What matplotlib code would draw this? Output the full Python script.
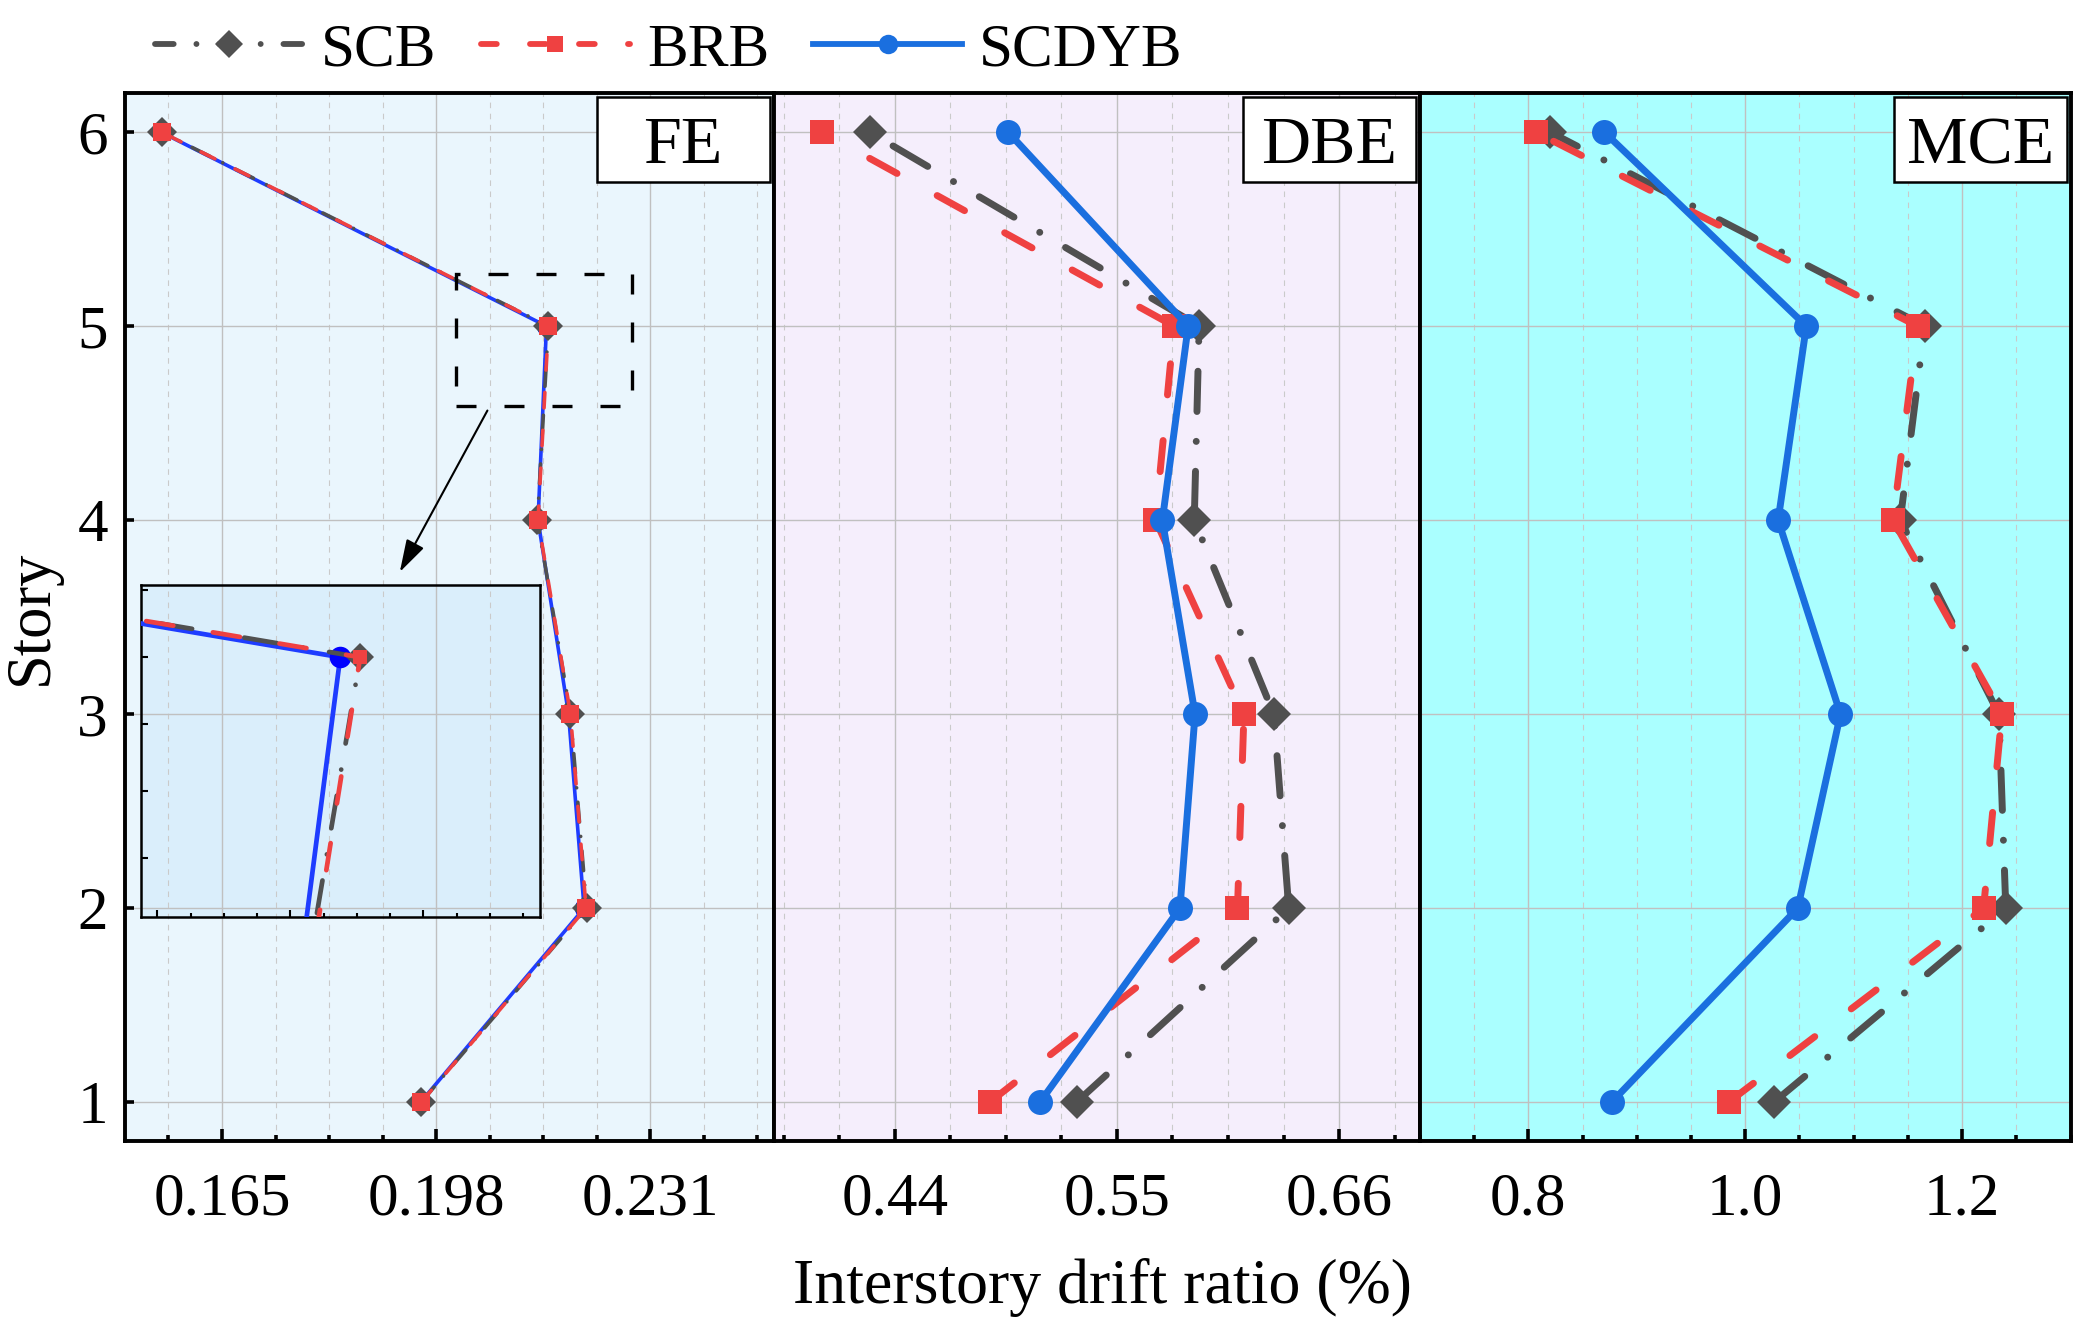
import matplotlib.pyplot as plt
import numpy as np
from matplotlib.lines import Line2D
from matplotlib.patches import Rectangle
from matplotlib.ticker import FixedLocator, MultipleLocator, FormatStrFormatter

plt.rcParams["font.family"] = ["Liberation Serif", "DejaVu Serif"]

# ---- data (interstory drift ratio in %, stories 1..6) ----
stories = [1, 2, 3, 4, 5, 6]
series_names = ["SCB", "BRB", "SCDYB"]

fe_scb = [0.1957, 0.2212, 0.2187, 0.2136, 0.2153, 0.1557]
fe_brb = [0.1957, 0.2211, 0.2187, 0.2137, 0.2153, 0.1557]
fe_scdyb = [0.1956, 0.2208, 0.2184, 0.2137, 0.2150, 0.1556]

dbe_scb = [0.5300, 0.6351, 0.6277, 0.5883, 0.5907, 0.4275]
dbe_brb = [0.4870, 0.6097, 0.6129, 0.5691, 0.5783, 0.4040]
dbe_scdyb = [0.5119, 0.5812, 0.5887, 0.5725, 0.5853, 0.4961]

mce_scb = [1.0264, 1.2402, 1.2339, 1.1429, 1.1654, 0.8201]
mce_brb = [0.9846, 1.2197, 1.2366, 1.1362, 1.1589, 0.8067]
mce_scdyb = [0.8768, 1.0484, 1.0878, 1.0303, 1.0563, 0.8701]

panel_names = ["FE", "DBE", "MCE"]
panel_data = [
    [fe_scb, fe_brb, fe_scdyb],
    [dbe_scb, dbe_brb, dbe_scdyb],
    [mce_scb, mce_brb, mce_scdyb],
]
x_limits = [(0.15, 0.25), (0.38, 0.70), (0.70, 1.30)]
x_major = [[0.165, 0.198, 0.231], [0.44, 0.55, 0.66], [0.8, 1.0, 1.2]]
x_minor_step = [0.00825, 0.0275, 0.05]
x_fmt = ["%.3f", "%.2f", "%.1f"]
panel_bg = ["#EAF6FD", "#F5EEFC", "#AAFFFF"]

GREY = "#505050"
RED = "#EF4141"
BLUE = "#1A6FDF"
BLUE_FE = "#1E3CFF"

# ---- figure layout ----
W_PX, H_PX = 2088, 1335
fig = plt.figure(figsize=(W_PX / 100, H_PX / 100), dpi=100)
edges = [0.0597, 0.3705, 0.6800, 0.9917]
bottom, top = 0.1453, 0.9301

axes = []
for i in range(3):
    ax = fig.add_axes([edges[i], bottom, edges[i + 1] - edges[i], top - bottom])
    ax.set_facecolor(panel_bg[i])
    ax.set_xlim(*x_limits[i])
    ax.set_ylim(0.8, 6.2)
    ax.xaxis.set_major_locator(FixedLocator(x_major[i]))
    ax.xaxis.set_minor_locator(MultipleLocator(x_minor_step[i]))
    ax.xaxis.set_major_formatter(FormatStrFormatter(x_fmt[i]))
    ax.set_yticks(stories)
    ax.set_axisbelow(True)
    ax.grid(which="major", axis="both", color="#C0C0C0", lw=1.0, ls="-")
    ax.grid(which="minor", axis="x", color="#CACACA", lw=0.8, ls=(0, (5, 5)))
    for sp in ax.spines.values():
        sp.set_linewidth(2.8)
        sp.set_color("black")
    ax.tick_params(axis="x", which="major", direction="in", length=8.6, width=2.6,
                   labelsize=44, pad=22, top=False)
    ax.tick_params(axis="x", which="minor", direction="in", length=4.3, width=2.6, top=False)
    if i == 0:
        ax.tick_params(axis="y", which="major", direction="in", length=6.5, width=2.6,
                       labelsize=44, pad=12, right=False)
        ax.set_ylabel("Story", fontsize=45, labelpad=12)
    else:
        ax.tick_params(axis="y", left=False, labelleft=False, right=False)
    axes.append(ax)


def plot_panel(ax, data, lw, ms, blue, blue_face, zorders, red_dash, grey_dash):
    scb, brb, scdyb = data
    ax.plot(scb, stories, color=GREY, lw=lw, dashes=grey_dash, dash_capstyle="round",
            marker="D", ms=ms[0], mew=0, zorder=zorders[0])
    ax.plot(brb, stories, color=RED, lw=lw, dashes=red_dash, dash_capstyle="round",
            marker="s", ms=ms[1], mew=0, zorder=zorders[1])
    ax.plot(scdyb, stories, color=blue, lw=lw, solid_capstyle="round",
            marker="o", ms=ms[2], mew=0, mfc=blue_face, zorder=zorders[2])


# FE panel: thin lines, SCDYB underneath
plot_panel(axes[0], panel_data[0], 2.6, (15, 13, 14), BLUE_FE, "#0000FF",
           (4, 5, 3), (4.3, 6.2), (5.5, 4.0, 0.01, 4.0))
for i in (1, 2):
    plot_panel(axes[i], panel_data[i], 5.0, (17, 17, 18), BLUE, BLUE,
               (3, 4, 5), (4.5, 6.6), (5.8, 4.3, 0.01, 4.3))

# panel labels in boxes
box_w_px, box_h_px, gap_px = 173, 85, 4
for i, ax in enumerate(axes):
    ax_w_px = (edges[i + 1] - edges[i]) * W_PX
    ax_h_px = (top - bottom) * H_PX
    bw = box_w_px / ax_w_px
    bh = box_h_px / ax_h_px
    x1 = 1 - gap_px / ax_w_px
    y1 = 1 - gap_px / ax_h_px
    ax.add_patch(Rectangle((x1 - bw, y1 - bh), bw, bh, transform=ax.transAxes,
                           facecolor="white", edgecolor="black", lw=1.8, zorder=7))
    ax.text(x1 - bw / 2, y1 - bh / 2, panel_names[i], transform=ax.transAxes,
            ha="center", va="center_baseline", fontsize=49, zorder=8)

# zoom window, arrow and inset in FE panel
ax1 = axes[0]
ax1.add_patch(Rectangle((0.2011, 4.59), 0.0271, 0.68, fill=False, ec="black", lw=2.4,
                        ls=(0, (6, 8.4)), zorder=6))
ax1.annotate("", xy=(0.1924, 3.733), xytext=(0.2059, 4.565),
             arrowprops=dict(arrowstyle="-|>,head_length=1.0,head_width=0.3", color="black",
                             lw=1.5, shrinkA=0, shrinkB=0, mutation_scale=20), zorder=6)

ins_box = [0.0247, 0.2137, 0.615, 0.3168]
ax1.add_patch(Rectangle(ins_box[:2], ins_box[2], ins_box[3], transform=ax1.transAxes,
                        facecolor="#DAEEFB", edgecolor="none", zorder=0.2))
ins = ax1.inset_axes(ins_box)
ins.set_facecolor("none")
plot_panel(ins, panel_data[0], 3.4, (14, 10, 15.5), BLUE_FE, "#0000FF",
           (4, 5, 3), (5.8, 8.5), (7.0, 5.6, 0.01, 5.6))
ins.set_xlim(0.2120, 0.2180)
ins.set_ylim(4.6116, 5.1076)
ins.set_xticks(np.arange(0.21225, 0.2180, 0.002))
ins.set_xticks(np.arange(0.21225, 0.2180, 0.0005), minor=True)
ins.set_yticks(np.arange(4.7, 5.15, 0.1))
ins.tick_params(which="major", direction="in", length=5, width=1.5,
                labelbottom=False, labelleft=False)
ins.tick_params(which="minor", direction="in", length=3, width=1.5)
for sp in ins.spines.values():
    sp.set_linewidth(1.8)

# legend
handles = [
    Line2D([], [], color=GREY, lw=4.2, dashes=(3.2, 3.9, 0.01, 3.9), dash_capstyle="round",
           marker="D", ms=14.5, mew=0),
    Line2D([], [], color=RED, lw=4.2, dashes=(2.7, 5.7), dash_capstyle="round",
           marker="s", ms=11, mew=0),
    Line2D([], [], color=BLUE, lw=4.2, marker="o", ms=14, mew=0),
]
fig.legend(handles, series_names, loc="center left", bbox_to_anchor=(0.0742, 0.962),
           ncol=3, frameon=False, fontsize=44, handlelength=2.44, handletextpad=0.28,
           columnspacing=0.72, borderpad=0, borderaxespad=0, numpoints=1)

fig.text(0.528, 0.024, "Interstory drift ratio (%)", ha="center", va="baseline", fontsize=46)

fig.savefig("out.png", dpi=100)
